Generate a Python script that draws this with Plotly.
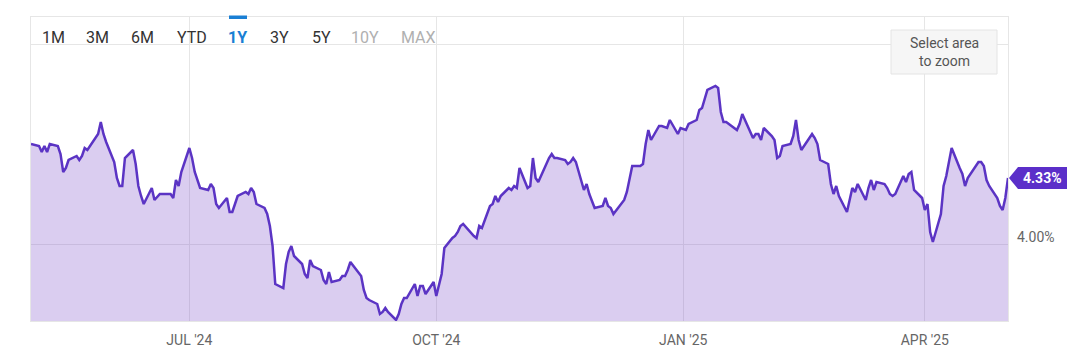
import plotly.graph_objects as go

# ---------------- data (10Y yield, %) ----------------
dates = [
 "2024-05-03","2024-05-06","2024-05-07","2024-05-08","2024-05-09","2024-05-10","2024-05-13","2024-05-14","2024-05-15","2024-05-16",
 "2024-05-17","2024-05-20","2024-05-21","2024-05-22","2024-05-23","2024-05-24","2024-05-28","2024-05-29","2024-05-30","2024-05-31",
 "2024-06-03","2024-06-04","2024-06-05","2024-06-06","2024-06-07","2024-06-10","2024-06-11","2024-06-12","2024-06-13","2024-06-14",
 "2024-06-17","2024-06-18","2024-06-20","2024-06-21","2024-06-24","2024-06-25","2024-06-26","2024-06-27","2024-06-28",
 "2024-07-01","2024-07-02","2024-07-03","2024-07-05","2024-07-08","2024-07-09","2024-07-10","2024-07-11","2024-07-12","2024-07-15",
 "2024-07-16","2024-07-17","2024-07-18","2024-07-19","2024-07-22","2024-07-23","2024-07-24","2024-07-25","2024-07-26","2024-07-29",
 "2024-07-30","2024-07-31",
 "2024-08-01","2024-08-02","2024-08-05","2024-08-06","2024-08-07","2024-08-08","2024-08-09","2024-08-12","2024-08-13","2024-08-14",
 "2024-08-15","2024-08-16","2024-08-19","2024-08-20","2024-08-21","2024-08-22","2024-08-23","2024-08-26","2024-08-27","2024-08-28",
 "2024-08-29","2024-08-30",
 "2024-09-03","2024-09-04","2024-09-05","2024-09-06","2024-09-09","2024-09-10","2024-09-11","2024-09-12","2024-09-13","2024-09-16",
 "2024-09-17","2024-09-18","2024-09-19","2024-09-20","2024-09-23","2024-09-24","2024-09-25","2024-09-26","2024-09-27","2024-09-30",
 "2024-10-01","2024-10-02","2024-10-03","2024-10-04","2024-10-07","2024-10-08","2024-10-09","2024-10-10","2024-10-11","2024-10-15",
 "2024-10-16","2024-10-17","2024-10-18","2024-10-21","2024-10-22","2024-10-23","2024-10-24","2024-10-25","2024-10-28","2024-10-29",
 "2024-10-30","2024-10-31",
 "2024-11-01","2024-11-04","2024-11-05","2024-11-06","2024-11-07","2024-11-08","2024-11-12","2024-11-13","2024-11-14","2024-11-15",
 "2024-11-18","2024-11-19","2024-11-20","2024-11-21","2024-11-22","2024-11-25","2024-11-26","2024-11-27","2024-11-29",
 "2024-12-02","2024-12-03","2024-12-04","2024-12-05","2024-12-06","2024-12-09","2024-12-10","2024-12-11","2024-12-12","2024-12-13",
 "2024-12-16","2024-12-17","2024-12-18","2024-12-19","2024-12-20","2024-12-23","2024-12-24","2024-12-26","2024-12-27","2024-12-30",
 "2024-12-31",
 "2025-01-02","2025-01-03","2025-01-06","2025-01-07","2025-01-08","2025-01-10","2025-01-13","2025-01-14","2025-01-15","2025-01-16",
 "2025-01-17","2025-01-21","2025-01-22","2025-01-23","2025-01-24","2025-01-27","2025-01-28","2025-01-29","2025-01-30","2025-01-31",
 "2025-02-03","2025-02-04","2025-02-05","2025-02-06","2025-02-07","2025-02-10","2025-02-11","2025-02-12","2025-02-13","2025-02-14",
 "2025-02-18","2025-02-19","2025-02-20","2025-02-21","2025-02-24","2025-02-25","2025-02-26","2025-02-27","2025-02-28",
 "2025-03-03","2025-03-04","2025-03-05","2025-03-06","2025-03-07","2025-03-10","2025-03-11","2025-03-12","2025-03-13","2025-03-14",
 "2025-03-17","2025-03-18","2025-03-19","2025-03-20","2025-03-21","2025-03-24","2025-03-25","2025-03-26","2025-03-27","2025-03-28",
 "2025-03-31",
 "2025-04-01","2025-04-02","2025-04-03","2025-04-04","2025-04-07","2025-04-08","2025-04-09","2025-04-10","2025-04-11","2025-04-14",
 "2025-04-15","2025-04-16","2025-04-17","2025-04-21","2025-04-22","2025-04-23","2025-04-24","2025-04-25","2025-04-28","2025-04-29",
 "2025-04-30",
 "2025-05-01","2025-05-02",
]
yield_pct = [
 4.50,4.49,4.46,4.49,4.46,4.50,4.49,4.45,4.36,4.38,
 4.42,4.44,4.42,4.44,4.48,4.47,4.55,4.61,4.55,4.51,
 4.41,4.33,4.29,4.29,4.43,4.47,4.40,4.29,4.24,4.20,
 4.28,4.22,4.25,4.25,4.25,4.23,4.32,4.29,4.36,
 4.48,4.43,4.36,4.28,4.27,4.30,4.28,4.20,4.18,4.23,
 4.16,4.16,4.20,4.24,4.26,4.25,4.28,4.26,4.20,4.18,
 4.15,4.09,
 3.99,3.80,3.78,3.90,3.96,3.99,3.94,3.90,3.85,3.83,
 3.92,3.89,3.87,3.82,3.80,3.86,3.81,3.82,3.84,3.84,
 3.87,3.91,
 3.84,3.77,3.73,3.72,3.70,3.65,3.66,3.68,3.66,3.62,
 3.65,3.70,3.73,3.73,3.80,3.74,3.79,3.79,3.75,3.81,
 3.74,3.79,3.85,3.98,4.03,4.04,4.06,4.09,4.10,4.04,
 4.03,4.09,4.08,4.19,4.20,4.24,4.21,4.24,4.28,4.27,
 4.29,4.28,
 4.38,4.28,4.29,4.43,4.33,4.31,4.43,4.45,4.43,4.43,
 4.42,4.40,4.41,4.43,4.41,4.27,4.30,4.25,4.18,
 4.19,4.23,4.19,4.18,4.15,4.20,4.22,4.26,4.33,4.39,
 4.39,4.40,4.50,4.57,4.52,4.59,4.59,4.58,4.62,4.55,
 4.58,
 4.57,4.60,4.62,4.67,4.68,4.77,4.79,4.78,4.66,4.61,
 4.61,4.57,4.60,4.65,4.62,4.53,4.55,4.55,4.52,4.58,
 4.54,4.52,4.43,4.44,4.49,4.50,4.54,4.62,4.52,4.47,
 4.55,4.53,4.50,4.42,4.40,4.30,4.25,4.29,4.24,
 4.16,4.22,4.28,4.26,4.30,4.22,4.28,4.32,4.27,4.31,
 4.30,4.28,4.25,4.24,4.25,4.34,4.31,4.35,4.36,4.27,
 4.23,
 4.17,4.20,4.06,4.01,4.15,4.29,4.34,4.42,4.48,4.38,
 4.35,4.29,4.33,4.41,4.41,4.39,4.32,4.29,4.23,4.19,
 4.17,
 4.23,4.33,
]

x_tick_vals = ["2024-07-01", "2024-10-01", "2025-01-01", "2025-04-01"]
x_tick_text = ["JUL '24", "OCT '24", "JAN '25", "APR '25"]
y_grid_vals = [4.0, 5.0]
y_label_val = 4.0
y_label_text = "4.00%"
last_label = "4.33%"
range_buttons = ["1M", "3M", "6M", "YTD", "1Y", "3Y", "5Y", "10Y", "MAX"]

# ---------------- layout helpers ----------------
OFF = 8                      # page body margin
W, H = 1082, 356
ML, MR, MT, MB = 23, 82, 9, 43
PW, PH = W - ML - MR, H - MT - MB

def px2x(px):               # page pixel -> paper x
    return (px - OFF - ML) / PW

def py2y(py):               # page pixel -> paper y
    return (H - MB - (py - OFF)) / PH

LINE = "#5b34c4"
FONT = "Roboto"

fig = go.Figure()
fig.add_trace(go.Scatter(
    x=dates, y=yield_pct, mode="lines",
    line=dict(color=LINE, width=2.5),
    fill="tozeroy", fillcolor="rgba(132,88,205,0.30)",
    hoverinfo="x+y", showlegend=False,
))

annotations = []
shapes = []

annotations.append(dict(xref="paper", yref="y", x=px2x(1015), y=y_label_val, yshift=7,
                        text=y_label_text, showarrow=False, xanchor="left", yanchor="middle",
                        font=dict(family=FONT, size=14, color="#666666")))

shapes.append(dict(type="path", xref="paper", yref="y", xsizemode="pixel", ysizemode="pixel",
                   xanchor=px2x(1009), yanchor=yield_pct[-1],
                   path="M0,0 L9,11 L58,11 L58,-11 L9,-11 Z",
                   fillcolor="#5b2fc9", line=dict(width=0), layer="above"))
annotations.append(dict(xref="paper", yref="y", x=px2x(1042), y=yield_pct[-1],
                        text="<b>%s</b>" % last_label, showarrow=False,
                        xanchor="center", yanchor="middle",
                        font=dict(family=FONT, size=14, color="white")))

btn_x = [53, 97, 142, 192, 237, 279, 321, 365, 418]
for lab, bx in zip(range_buttons, btn_x):
    if lab == "1Y":
        col, txt = "#1a7fd4", "<b>1Y</b>"
    elif lab in ("10Y", "MAX"):
        col, txt = "#b0b0b0", lab
    else:
        col, txt = "#333333", lab
    annotations.append(dict(xref="paper", yref="paper", x=px2x(bx), y=py2y(38),
                            text=txt, showarrow=False, xanchor="center", yanchor="middle",
                            font=dict(family=FONT, size=16, color=col)))
shapes.append(dict(type="rect", xref="paper", yref="paper",
                   x0=px2x(229), x1=px2x(247), y0=py2y(19), y1=py2y(15.5),
                   fillcolor="#1a7fd4", line=dict(width=0), layer="above"))

shapes.append(dict(type="rect", xref="paper", yref="paper",
                   x0=px2x(891), x1=px2x(997), y0=py2y(74), y1=py2y(30),
                   fillcolor="#f6f6f6", line=dict(color="#e4e4e4", width=1), layer="above"))
annotations.append(dict(xref="paper", yref="paper", x=px2x(944), y=py2y(52),
                        text="Select area<br>to zoom", showarrow=False,
                        xanchor="center", yanchor="middle", align="center",
                        font=dict(family=FONT, size=14, color="#555555")))

fig.update_layout(
    width=W, height=H,
    margin=dict(l=ML, r=MR, t=MT, b=MB, pad=0),
    paper_bgcolor="white", plot_bgcolor="white",
    font=dict(family=FONT, color="#666666"),
    annotations=annotations, shapes=shapes,
    xaxis=dict(range=["2024-05-03", "2025-05-02"], tickvals=x_tick_vals, ticktext=x_tick_text,
               showgrid=True, gridcolor="#e6e6e6", gridwidth=1,
               showline=True, linecolor="#e6e6e6", mirror=True, zeroline=False,
               ticks="", ticklabelstandoff=6,
               tickfont=dict(family=FONT, size=14, color="#666666")),
    yaxis=dict(range=[3.615, 5.135], tickvals=y_grid_vals, showticklabels=False,
               showgrid=True, gridcolor="#e6e6e6", gridwidth=1,
               showline=True, linecolor="#e6e6e6", mirror=True, zeroline=False, ticks=""),
    hovermode="x",
)

fig.write_html("out.html")
